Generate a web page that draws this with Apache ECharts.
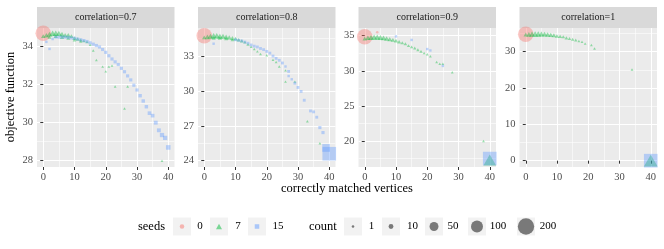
<!DOCTYPE html>
<html><head><meta charset="utf-8">
<script src="https://cdn.jsdelivr.net/npm/echarts@6/dist/echarts.min.js"></script>
<style>html,body{margin:0;padding:0;background:#fff}#c{width:664px;height:249px}</style>
</head><body><div id="c"></div>
<script>
// ---------- data ----------
const panelTitles = ['correlation=0.7', 'correlation=0.8', 'correlation=0.9', 'correlation=1'];
const seedLevels = ['0', '7', '15'];
const countBreaks = [1, 10, 50, 100, 200];
const xTicks = [0, 10, 20, 30, 40];
const xMinor = [5, 15, 25, 35];
const yTicks07 = [28, 30, 32, 34];
const yTicks08 = [24, 27, 30, 33];
const yTicks09 = [20, 25, 30, 35];
const yTicks10 = [0, 10, 20, 30];
const yMinor07 = [29, 31, 33];
const yMinor08 = [25.5, 28.5, 31.5, 34.5];
const yMinor09 = [17.5, 22.5, 27.5, 32.5];
const yMinor10 = [5, 15, 25, 35];
const yRange07 = [27.67, 34.98];
const yRange08 = [23.46, 35.41];
const yRange09 = [16.3, 36.1];
const yRange10 = [-1.74, 36.5];

// [correctly matched vertices, objective function, count]
const c07_seed0 = [[0, 34.7, 180]];
const c07_seed7 = [[0,34.55,6],[1,34.6,10],[2,34.65,14],[3,34.7,16],[4,34.7,16],[5,34.7,14],[6,34.65,12],[7,34.6,10],[8,34.6,8],[9,34.55,6],[10,34.45,5],[11,34.4,4],[12,34.35,3],[13,34.3,2],[14,34.25,2],[15,34.1,1],
  [2,34.5,4],[4,34.55,5],[6,34.5,5],[8,34.45,4],[10,34.35,3],[12,34.28,2],
  [16,33.8,1],[17,33.3,1],[19,32.95,1],[20,32.7,1],[21,32.95,1],[22,33.0,1],[23,31.9,1],[27,31.9,1],[26,30.75,1],[38,28.0,1]];
const c07_seed15 = [[1,34.25,1],[2,33.88,1],[3,34.4,1],[4,34.5,2],[5,34.5,3],[6,34.5,3],[7,34.5,3],[8,34.48,3],[9,34.46,3],[10,34.44,3],[11,34.4,3],[12,34.36,3],[13,34.32,3],[14,34.27,3],[15,34.2,3],[16,34.13,3],[17,34.06,3],[18,33.98,3],[19,33.85,3],[20,33.7,3],[21,33.52,3],[22,33.35,3],[23,33.2,3],[24,33.06,3],[25,32.86,3],[26,32.68,3],[27,32.46,3],[28,32.25,3],[29,31.97,3],[30,31.72,3],[31,31.42,4],[32,31.14,4],[33,30.84,4],[34,30.5,5],[35,30.37,5],[36,30.0,6],[37,29.6,6],[38,29.35,8],[39,29.2,8],[40,28.7,10]];

const c08_seed0 = [[0, 34.75, 180]];
const c08_seed7 = [[0,34.6,6],[1,34.65,10],[2,34.7,14],[3,34.75,16],[4,34.75,16],[5,34.7,14],[6,34.7,12],[7,34.65,10],[8,34.6,8],[9,34.55,6],[10,34.5,5],[11,34.4,4],[12,34.3,3],[13,34.2,2],[14,34.0,2],[15,33.8,1],[16,33.6,1],
  [3,34.55,5],[5,34.55,5],[7,34.5,4],[9,34.4,3],
  [17,33.4,1],[18,33.17,1],[20,33.06,1],[22,32.68,1],[23,32.48,1],[24,32.1,1],[26,31.77,1],[26,30.8,1],[29,30.8,1],[33,27.4,1],[37,25.5,1]];
const c08_seed15 = [[3,34.06,1],[10,34.4,2],[11,34.35,2],[12,34.3,2],[13,34.2,2],[14,34.1,2],[15,33.95,2],[16,33.85,2],[17,33.78,2],[18,33.65,2],[19,33.55,2],[20,33.4,2],[21,33.25,2],[22,33.0,2],[23,32.8,2],[24,32.63,2],[25,32.4,2],[26,32.1,1],[27,31.68,2],[27,31.28,1],[28,31.0,1],[29,30.67,2],[30,30.3,2],[31,29.96,2],[32,29.2,2],[34,28.28,2],[35,28.2,2],[36,27.74,2],[37,26.85,3],[38,26.42,3],[39,25.1,40],[40,24.6,150]];

const c09_seed0 = [[0, 34.86, 180], [4, 35.5, 1]];
const c09_seed7 = [[0,34.6,6],[1,34.7,10],[2,34.75,14],[3,34.8,16],[4,34.8,16],[5,34.75,14],[6,34.7,12],[7,34.6,10],[8,34.5,8],[9,34.4,6],[10,34.3,5],[11,34.15,4],[12,34.0,3],[13,33.86,3],[14,33.6,2],[15,33.4,2],[16,33.25,2],[17,33.0,2],[18,32.78,2],[19,32.55,1],[20,32.35,1],[21,32.07,1],[23,31.26,1],[24,31.0,1],[25,31.0,1],[28,29.8,1],[38,20.0,1],[40,17.3,90]];
const c09_seed15 = [[10,34.9,1],[15,34.4,1],[20,33.1,1],[21,32.9,1],[25,30.7,1],[40,17.5,150]];

const c10_seed0 = [[0, 34.8, 180]];
const c10_seed7 = [[0,34.7,6],[1,34.75,10],[2,34.8,14],[3,34.85,16],[4,34.85,16],[5,34.85,14],[6,34.8,12],[7,34.7,10],[8,34.6,8],[9,34.5,6],[10,34.3,5],[11,34.2,4],[12,34.1,3],[13,33.8,3],[14,33.6,2],[15,33.4,2],[16,33.2,2],[17,32.9,1],[18,32.7,1],[19,32.2,1],[21,31.8,1],[22,30.85,1],[34,25.1,1],[40,0,110]];
const c10_seed15 = [[40, 0, 150]];

// ---------- layout / style ----------
const panels = [
  {seeds: [c07_seed0, c07_seed7, c07_seed15], yt: yTicks07, ym: yMinor07, yr: yRange07},
  {seeds: [c08_seed0, c08_seed7, c08_seed15], yt: yTicks08, ym: yMinor08, yr: yRange08},
  {seeds: [c09_seed0, c09_seed7, c09_seed15], yt: yTicks09, ym: yMinor09, yr: yRange09},
  {seeds: [c10_seed0, c10_seed7, c10_seed15], yt: yTicks10, ym: yMinor10, yr: yRange10}
];
const lefts = [37, 198, 358.5, 519.5];
const PW = 137.5, PT = 28, PH = 139, STRIP_H = 21;
const FONT = 'Liberation Serif';
const colors = ['rgba(248,118,109,0.5)', 'rgba(0,186,56,0.5)', 'rgba(97,156,255,0.5)'];
const symbols = ['circle', 'triangle', 'rect'];
function dia(n) { return 1.5 + 1.05 * Math.sqrt(n); }
function symSize(k) {
  return function (v) {
    const d = dia(v[2]);
    if (k === 1) return [d * 1.1, d * 0.95];
    if (k === 2) return d * 0.95;
    return d;
  };
}

const grid = [], xAxis = [], yAxis = [], series = [], graphic = [];
panels.forEach((p, i) => {
  grid.push({left: lefts[i], top: PT, width: PW, height: PH, backgroundColor: '#EBEBEB', show: true, borderWidth: 0, outerBoundsMode: 'none'});
  xAxis.push({type: 'value', gridIndex: i, min: -2, max: 42,
    axisLine: {show: false},
    axisTick: {show: true, customValues: xTicks, length: 3, lineStyle: {color: '#333', width: 1}},
    axisLabel: {customValues: xTicks, color: '#4D4D4D', fontSize: 10.5, fontFamily: FONT, margin: 5},
    splitLine: {show: true, lineStyle: {color: '#FFFFFF', width: 1.1}}});
  yAxis.push({type: 'value', gridIndex: i, min: p.yr[0], max: p.yr[1],
    axisLine: {show: false},
    axisTick: {show: true, customValues: p.yt, length: 3, lineStyle: {color: '#333', width: 1}},
    axisLabel: {customValues: p.yt, color: '#4D4D4D', fontSize: 10.5, fontFamily: FONT, margin: 4},
    splitLine: {show: true, lineStyle: {color: '#FFFFFF', width: 1.1}}});
  graphic.push({type: 'rect', left: lefts[i], top: PT - STRIP_H, shape: {width: PW, height: STRIP_H}, style: {fill: '#D9D9D9'}, silent: true});
  graphic.push({type: 'text', x: lefts[i] + PW / 2, y: PT - STRIP_H / 2, style: {text: panelTitles[i], fill: '#1A1A1A', font: '10px "' + FONT + '"', textAlign: 'center', textVerticalAlign: 'middle'}, silent: true});
});
panels.forEach((p, i) => {
  xAxis.push({type: 'value', gridIndex: i, min: -2, max: 42, position: 'top',
    axisLine: {show: false}, axisTick: {show: false, customValues: xMinor}, axisLabel: {show: false, customValues: xMinor},
    splitLine: {show: true, lineStyle: {color: '#FFFFFF', width: 0.55}}});
  yAxis.push({type: 'value', gridIndex: i, min: p.yr[0], max: p.yr[1], position: 'right',
    axisLine: {show: false}, axisTick: {show: false, customValues: p.ym}, axisLabel: {show: false, customValues: p.ym},
    splitLine: {show: true, lineStyle: {color: '#FFFFFF', width: 0.55}}});
});
panels.forEach((p, i) => {
  p.seeds.forEach((data, k) => {
    series.push({type: 'scatter', name: seedLevels[k], xAxisIndex: i, yAxisIndex: i, data: data,
      symbol: symbols[k], symbolSize: symSize(k), clip: true,
      itemStyle: {color: colors[k], borderWidth: 0}, silent: true, animation: false});
  });
});

graphic.push({type: 'text', x: 347, y: 189, style: {text: 'correctly matched vertices', fill: '#000', font: '12.5px "' + FONT + '"', textAlign: 'center', textVerticalAlign: 'middle'}, silent: true});
graphic.push({type: 'text', x: 11, y: 97, rotation: Math.PI / 2, style: {text: 'objective function', fill: '#000', font: '12.5px "' + FONT + '"', textAlign: 'center', textVerticalAlign: 'middle'}, silent: true});

const LY = 217.5, KB = 18;
graphic.push({type: 'text', x: 165, y: LY + KB / 2, style: {text: 'seeds', fill: '#000', font: '12.5px "' + FONT + '"', textAlign: 'right', textVerticalAlign: 'middle'}});
const seedKeyX = [173, 210, 248];
const seedLabX = [200, 238, 278];
const seedKeySize = [[4.5, 4.5], [6, 5.5], [4.5, 4.5]];
seedLevels.forEach((s, k) => {
  graphic.push({type: 'rect', left: seedKeyX[k], top: LY, shape: {width: KB, height: KB}, style: {fill: '#F2F2F2'}});
  const cx = seedKeyX[k] + KB / 2, cy = LY + KB / 2, w = seedKeySize[k][0], h = seedKeySize[k][1];
  if (k === 0) graphic.push({type: 'circle', shape: {cx: cx, cy: cy, r: w / 2}, style: {fill: colors[0]}});
  if (k === 1) graphic.push({type: 'polygon', shape: {points: [[cx, cy - h / 2], [cx - w / 2, cy + h / 2], [cx + w / 2, cy + h / 2]]}, style: {fill: colors[1]}});
  if (k === 2) graphic.push({type: 'rect', shape: {x: cx - w / 2, y: cy - h / 2, width: w, height: h}, style: {fill: colors[2]}});
  graphic.push({type: 'text', x: seedLabX[k], y: cy, style: {text: s, fill: '#000', font: '11px "' + FONT + '"', textAlign: 'center', textVerticalAlign: 'middle'}});
});
graphic.push({type: 'text', x: 309, y: LY + KB / 2, style: {text: 'count', fill: '#000', font: '12.5px "' + FONT + '"', textAlign: 'left', textVerticalAlign: 'middle'}});
const cntKeyX = [344, 382, 425, 468, 517];
const cntLabX = [371.5, 412.5, 453, 498, 548];
countBreaks.forEach((c, k) => {
  graphic.push({type: 'rect', left: cntKeyX[k], top: LY, shape: {width: KB, height: KB}, style: {fill: '#F2F2F2'}});
  graphic.push({type: 'circle', shape: {cx: cntKeyX[k] + KB / 2, cy: LY + KB / 2, r: dia(c) / 2}, style: {fill: 'rgba(0,0,0,0.5)'}});
  graphic.push({type: 'text', x: cntLabX[k], y: LY + KB / 2, style: {text: String(c), fill: '#000', font: '11px "' + FONT + '"', textAlign: 'center', textVerticalAlign: 'middle'}});
});

const chart = echarts.init(document.getElementById('c'), null, {renderer: 'canvas'});
chart.setOption({animation: false, backgroundColor: '#FFFFFF', grid: grid, xAxis: xAxis, yAxis: yAxis, series: series, graphic: graphic});
</script></body></html>
